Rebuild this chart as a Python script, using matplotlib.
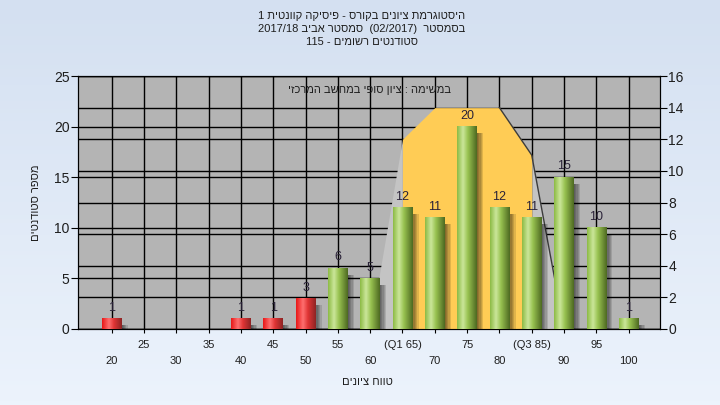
import re
import numpy as np
import matplotlib
matplotlib.use('Agg')
import matplotlib.pyplot as plt
from matplotlib.colors import LinearSegmentedColormap

plt.rcParams['font.family'] = ['Liberation Sans', 'DejaVu Sans']

# data
grades = [20, 25, 30, 35, 40, 45, 50, 55, 60, 65, 70, 75, 80, 85, 90, 95, 100]
counts = [1, 0, 0, 0, 1, 1, 3, 6, 5, 12, 11, 20, 12, 11, 15, 10, 1]
tick_labels = ['20', '25', '30', '35', '40', '45', '50', '55', '60', '(Q1 65)',
               '70', '75', '80', '(Q3 85)', '90', '95', '100']
pass_grade = 55

# quartile area (right axis)
dist_grades = [60, 65, 70, 80, 85, 90]
dist_values = [0, 12, 14, 14, 11, 0]

title_lines = ['היסטוגרמת ציונים בקורס - פיסיקה קוונטית 1',
               'בסמסטר  (02/2017)  סמסטר אביב 2017/18',
               'סטודנטים רשומים - 115']
note_text = 'במשימה : ציון סופי במחשב המרכזי'
xlabel_text = 'טווח ציונים'
ylabel_text = 'מספר סטודנטים'


def visual(s):
    # matplotlib has no bidi support, so put Hebrew into visual order
    r = s[::-1]
    r = re.sub(r'[0-9A-Za-z/.]+', lambda m: m.group(0)[::-1], r)
    return r.translate(str.maketrans('()', ')('))


fig = plt.figure(figsize=(7.2, 4.05), dpi=100)

# light blue background gradient
bg = fig.add_axes([0, 0, 1, 1], zorder=-10)
bg_cmap = LinearSegmentedColormap.from_list('bg', ['#ECF3FC', '#D4E0F1'])
bg.imshow(np.linspace(0, 1, 100)[:, None][::-1], cmap=bg_cmap, aspect='auto',
          extent=(0, 1, 0, 1))
bg.axis('off')

pos = [78 / 720, 76 / 405, 582 / 720, 253 / 405]
ax = fig.add_axes(pos, zorder=1)
ax.set_facecolor('#B4B4B4')
ax2 = ax.twinx()
ax2.set_zorder(2)
ax2.patch.set_visible(False)
axb = fig.add_axes(pos, zorder=3, sharex=ax, sharey=ax)
axb.patch.set_visible(False)
axb.axis('off')

x = np.arange(len(grades))
dist_x = [grades.index(g) for g in dist_grades]

# grids
ax.set_axisbelow(True)
ax2.set_axisbelow(True)
ax.grid(True, color='black', lw=1)
ax2.grid(True, axis='y', color='black', lw=1)

# quartile area
ax2.fill_between(dist_x[0:2], dist_values[0:2], color='#C4C4C4', lw=0, zorder=1)
ax2.fill_between(dist_x[4:6], dist_values[4:6], color='#C4C4C4', lw=0, zorder=1)
ax2.fill_between(dist_x[1:5], dist_values[1:5], color='#FFCC55', lw=0, zorder=1)
ax2.plot(dist_x[3:6], dist_values[3:6], color='#3C3C3C', lw=1, zorder=1.5)

# bars: shadow + cylinder gradient
green = LinearSegmentedColormap.from_list(
    'g', [(0, '#8DBB45'), (0.3, '#CBE69A'), (0.55, '#98C250'), (1, '#4E6A22')])
red = LinearSegmentedColormap.from_list(
    'r', [(0, '#E81818'), (0.35, '#FF7070'), (0.6, '#E03535'), (1, '#8E2424')])
w = 0.6
grad = np.linspace(0, 1, 60)[None, :]
for i, (g, v) in enumerate(zip(grades, counts)):
    if v == 0:
        continue
    for k in range(5):
        axb.bar(i + 0.04 + k * 0.04, v - 0.3, width=w, bottom=-0.35,
                color='black', alpha=0.12, lw=0, zorder=2)
    cmap = red if g < pass_grade else green
    axb.imshow(grad, cmap=cmap, aspect='auto', interpolation='bilinear',
               extent=(i - w / 2, i + w / 2, 0, v), zorder=3)
    axb.annotate(str(v), (i, v), xytext=(0, 3.5), textcoords='offset points',
                 ha='center', va='bottom', fontsize=9, color='#2A2238')

ax.set_xlim(-1.04, 16.97)
ax.set_ylim(0, 25)
ax2.set_ylim(0, 16)

# axes and ticks
ax.set_yticks(range(0, 26, 5))
ax2.set_yticks(range(0, 17, 2))
ax.set_xticks(x)
ax.set_xticklabels([lbl if i % 2 else '\n' + lbl for i, lbl in enumerate(tick_labels)])
for t in ax.get_xticklabels():
    t.set_linespacing(1.75)
ax.tick_params(axis='x', length=3, pad=5, labelsize=8, labelcolor='#1E1E1E')
ax.tick_params(axis='y', length=5, pad=1, labelsize=10, labelcolor='#1E1E1E')
ax2.tick_params(axis='y', length=5, pad=1, labelsize=10, labelcolor='#1E1E1E')
for a in (ax, ax2):
    for s in a.spines.values():
        s.set_color('black')

ax.set_xlabel(visual(xlabel_text), fontsize=8, color='#1E1E1E')
ax.xaxis.set_label_coords(0.498, -0.19)
ax.set_ylabel(visual(ylabel_text), fontsize=8, color='#1E1E1E')
ax.yaxis.set_label_coords(-0.064, 0.5)

axb.text(0.5, 0.945, visual(note_text), transform=axb.transAxes, ha='center',
         va='center', fontsize=8, color='#1E1E1E', zorder=5)

for k, line in enumerate(title_lines):
    fig.text(362 / 720, 1 - (16 + 13 * k) / 405, visual(line), ha='center',
             va='center', fontsize=8, color='#1E1E1E')

fig.savefig('out.png', dpi=100)
